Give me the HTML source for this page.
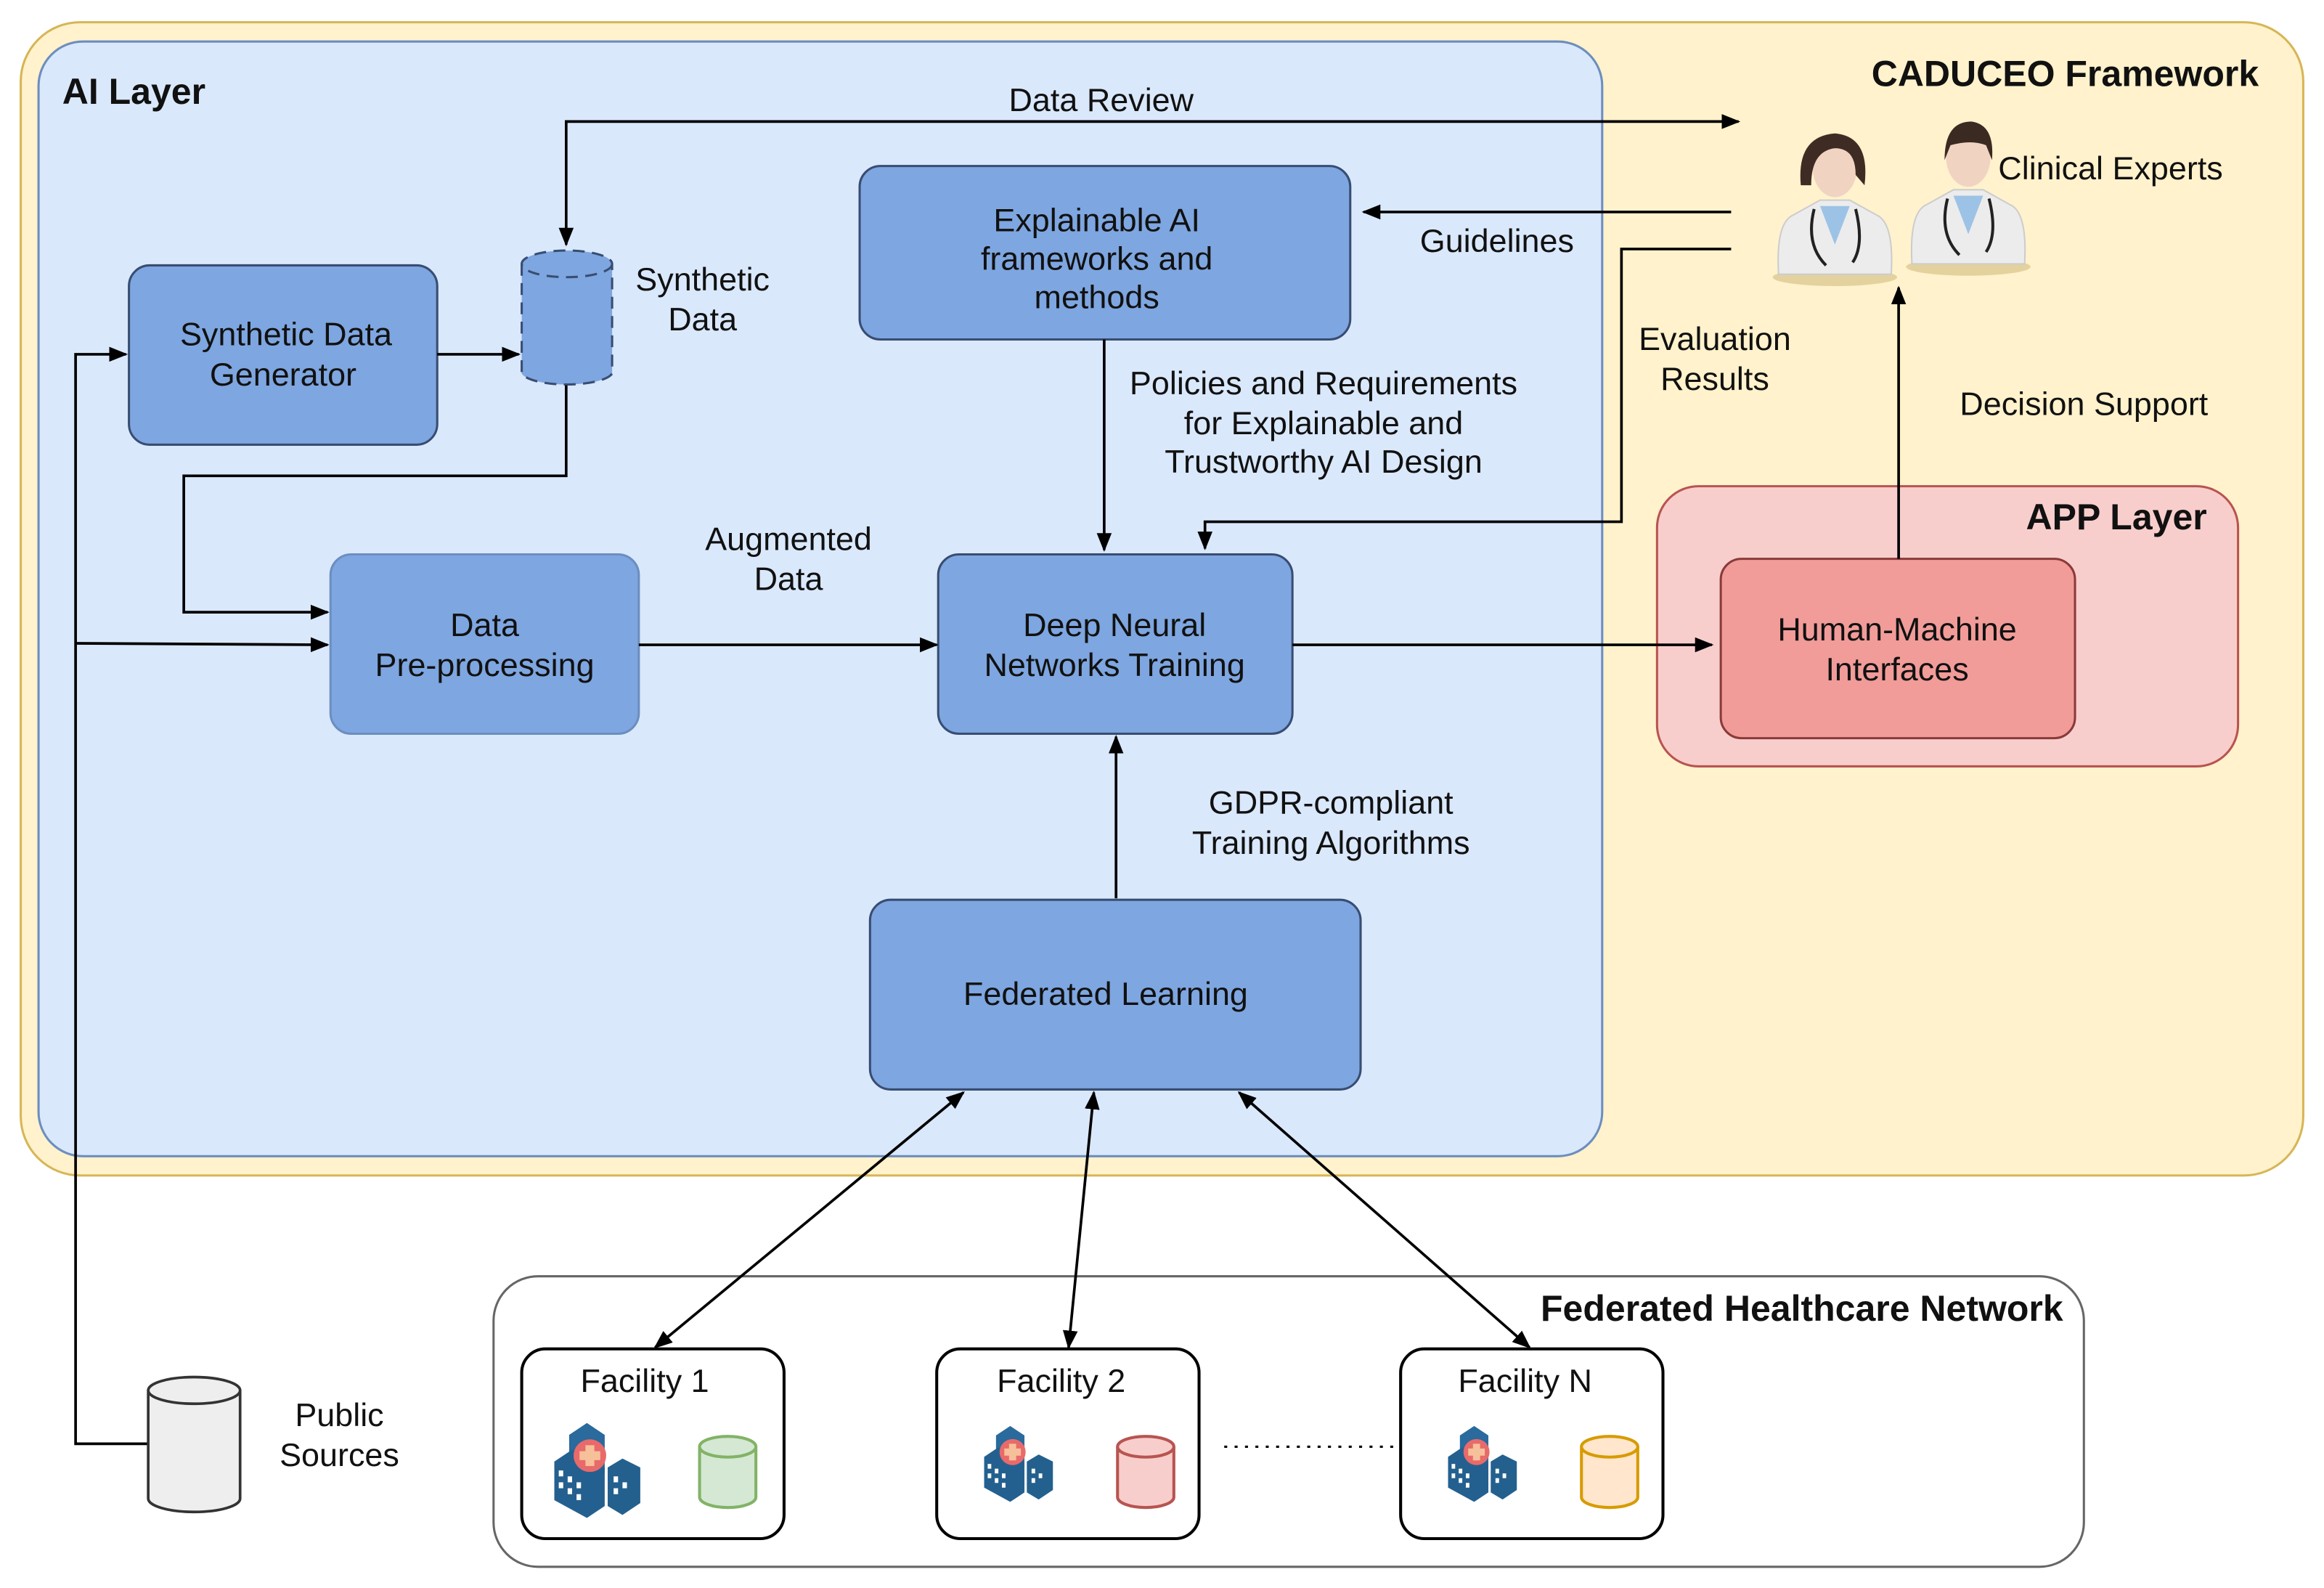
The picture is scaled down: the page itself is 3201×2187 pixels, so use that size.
<!DOCTYPE html>
<html><head><meta charset="utf-8"><style>
html,body{margin:0;padding:0;background:#fff}
svg{display:block}
text{font-family:"Liberation Sans",sans-serif;font-size:22px;fill:#111}
.b{font-weight:bold;font-size:24.5px}
</style></head><body>
<svg width="3201" height="2187" viewBox="0 0 1568 1071.3" preserveAspectRatio="none" xmlns="http://www.w3.org/2000/svg">
<defs>
<marker id="a" viewBox="0 0 10 10" refX="9" refY="5" markerWidth="7" markerHeight="7" orient="auto-start-reverse"><path d="M0,1 L10,5 L0,9 z" fill="#000"/></marker>
<g id="hosp">
<path d="M10,8 L22,0 L34,8 L34,34 L22,42 L10,34z" fill="#2a6a9c"/>
<path d="M0,26 L12,18 L34,30 L34,56 L22,64 L0,52z" fill="#24608f"/>
<path d="M36,30 L46,24 L58,30 L58,54 L46,62 L36,56z" fill="#23608e"/>
<g fill="#fff"><rect x="3" y="32" width="3" height="4"/><rect x="9" y="36" width="3" height="4"/><rect x="15" y="40" width="3" height="4"/><rect x="3" y="40" width="3" height="4"/><rect x="9" y="44" width="3" height="4"/><rect x="15" y="48" width="3" height="4"/><rect x="40" y="36" width="3" height="4"/><rect x="40" y="44" width="3" height="4"/><rect x="46" y="40" width="3" height="4"/></g>
<circle cx="24" cy="22" r="11" fill="#e86a6a"/>
<path d="M21,15h6v4h4v6h-4v4h-6v-4h-4v-6h4z" fill="#f6c09a"/>
</g>
<g id="doc">
<ellipse cx="0" cy="92" rx="42" ry="6" fill="#d9c58a" opacity="0.7"/>
<path d="M-38,90 Q-40,55 -28,50 L-10,40 L10,40 L28,50 Q40,55 38,90z" fill="#ececec" stroke="#ccc"/>
<path d="M-10,44 L0,70 L10,44z" fill="#9cc3e6"/>
<path d="M-14,46 Q-20,70 -6,84 M14,46 Q20,70 12,82" fill="none" stroke="#222" stroke-width="2"/>
<ellipse cx="0" cy="18" rx="15" ry="20" fill="#f1d3c2"/>
</g>
</defs>
<rect x="14" y="15" width="1540" height="778" rx="40" fill="#fff2cc" stroke="#d6b656" stroke-width="1.5"/>
<rect x="26" y="28" width="1055" height="752" rx="30" fill="#dae8fc" stroke="#6c8ebf" stroke-width="1.5"/>
<text x="42" y="70" class="b">AI Layer</text>
<text x="1524" y="58" class="b" text-anchor="end">CADUCEO Framework</text>

<rect x="1118" y="328" width="392" height="189" rx="28" fill="#f8cecc" stroke="#b85450" stroke-width="1.5"/>
<text x="1489" y="357" class="b" text-anchor="end">APP Layer</text>
<rect x="1161" y="377" width="239" height="121" rx="14" fill="#f19c99" stroke="#8a3a3a" stroke-width="1.5"/>
<text x="1280" y="432" text-anchor="middle">Human-Machine</text><text x="1280" y="459" text-anchor="middle">Interfaces</text>

<g fill="#7ea6e0" stroke="#384d72" stroke-width="1.5">
<rect x="87" y="179" width="208" height="121" rx="14"/>
<rect x="580" y="112" width="331" height="117" rx="14"/>
<rect x="633" y="374" width="239" height="121" rx="14"/>
<rect x="587" y="607" width="331" height="128" rx="14"/>
</g>
<rect x="223" y="374" width="208" height="121" rx="14" fill="#7ea6e0" stroke="#6c8ebf" stroke-width="1.5"/>
<text x="193" y="233" text-anchor="middle">Synthetic Data</text><text x="191" y="260" text-anchor="middle">Generator</text>
<text x="740" y="156" text-anchor="middle">Explainable AI</text><text x="740" y="182" text-anchor="middle">frameworks and</text><text x="740" y="208" text-anchor="middle">methods</text>
<text x="327" y="429" text-anchor="middle">Data</text><text x="327" y="456" text-anchor="middle">Pre-processing</text>
<text x="752" y="429" text-anchor="middle">Deep Neural</text><text x="752" y="456" text-anchor="middle">Networks Training</text>
<text x="746" y="678" text-anchor="middle">Federated Learning</text>

<path d="M352,178 L352,252 A31,9 0 0 0 413,252 L413,178" fill="#7ea6e0" stroke="#384d72" stroke-width="1.5" stroke-dasharray="8,5"/>
<ellipse cx="382.5" cy="178" rx="30.5" ry="9" fill="#7ea6e0" stroke="#384d72" stroke-width="1.5" stroke-dasharray="8,5"/>
<text x="474" y="196" text-anchor="middle">Synthetic</text><text x="474" y="223" text-anchor="middle">Data</text>

<!-- Federated network -->
<rect x="333" y="861" width="1073" height="196" rx="30" fill="#fff" stroke="#666" stroke-width="1.5"/>
<text x="1392" y="891" class="b" text-anchor="end">Federated Healthcare Network</text>
<g fill="#fff" stroke="#000" stroke-width="2">
<rect x="352" y="910" width="177" height="128" rx="16"/>
<rect x="632" y="910" width="177" height="128" rx="16"/>
<rect x="945" y="910" width="177" height="128" rx="16"/>
</g>

<g fill="none" stroke="#000" stroke-width="1.8">
<path d="M382,165 L382,82 L1173,82" marker-start="url(#a)" marker-end="url(#a)"/>
<path d="M1168,143 L920,143" marker-end="url(#a)"/>
<path d="M1168,168 L1094,168 L1094,352 L813,352 L813,370" marker-end="url(#a)"/>
<path d="M1281,377 L1281,194" marker-end="url(#a)"/>
<path d="M295,239 L350,239" marker-end="url(#a)"/>
<path d="M382,260 L382,321 L124,321 L124,413 L221,413" marker-end="url(#a)"/>
<path d="M100,974 L51,974 L51,239 L85,239" marker-end="url(#a)"/>
<path d="M51,434 L221,435" marker-end="url(#a)"/>
<path d="M431,435 L632,435" marker-end="url(#a)"/>
<path d="M745,229 L745,371" marker-end="url(#a)"/>
<path d="M753,606 L753,497" marker-end="url(#a)"/>
<path d="M872,435 L1155,435" marker-end="url(#a)"/>
<path d="M650,737 L442,909" marker-start="url(#a)" marker-end="url(#a)"/>
<path d="M738,737 L721,909" marker-start="url(#a)" marker-end="url(#a)"/>
<path d="M836,737 L1032,909" marker-start="url(#a)" marker-end="url(#a)"/>
</g>
<text x="743" y="75" text-anchor="middle">Data Review</text>
<text x="1010" y="170" text-anchor="middle">Guidelines</text>
<text x="1157" y="236" text-anchor="middle">Evaluation</text><text x="1157" y="263" text-anchor="middle">Results</text>
<text x="1406" y="280" text-anchor="middle">Decision Support</text>
<text x="1424" y="121" text-anchor="middle">Clinical Experts</text>
<text x="532" y="371" text-anchor="middle">Augmented</text><text x="532" y="398" text-anchor="middle">Data</text>
<text x="893" y="266" text-anchor="middle">Policies and Requirements</text><text x="893" y="293" text-anchor="middle">for Explainable and</text><text x="893" y="319" text-anchor="middle">Trustworthy AI Design</text>
<text x="898" y="549" text-anchor="middle">GDPR-compliant</text><text x="898" y="576" text-anchor="middle">Training Algorithms</text>

<use href="#doc" x="1238" y="95"/>
<use href="#doc" x="1328" y="88"/>
<path d="M1215,125 Q1212,92 1238,90 Q1262,92 1258,125 L1252,118 Q1252,100 1238,100 Q1222,102 1222,125z" fill="#3e2c24"/>
<path d="M1312,108 Q1312,82 1330,82 Q1346,84 1344,108 L1340,98 Q1330,94 1316,98z" fill="#3a2a22"/>

<text x="435" y="939" text-anchor="middle">Facility 1</text>
<text x="716" y="939" text-anchor="middle">Facility 2</text>
<text x="1029" y="939" text-anchor="middle">Facility N</text>
<use href="#hosp" x="374" y="960"/>
<g transform="translate(664,962) scale(0.8)"><use href="#hosp"/></g>
<g transform="translate(977,962) scale(0.8)"><use href="#hosp"/></g>
<g stroke-width="2">
<path d="M472,976 L472,1010 A19,7 0 0 0 510,1010 L510,976" fill="#d5e8d4" stroke="#82b366"/>
<ellipse cx="491" cy="976" rx="19" ry="7" fill="#d5e8d4" stroke="#82b366"/>
<path d="M754,976 L754,1010 A19,7 0 0 0 792,1010 L792,976" fill="#f8cecc" stroke="#b85450"/>
<ellipse cx="773" cy="976" rx="19" ry="7" fill="#f8cecc" stroke="#b85450"/>
<path d="M1067,976 L1067,1010 A19,7 0 0 0 1105,1010 L1105,976" fill="#ffe6cc" stroke="#d79b00"/>
<ellipse cx="1086" cy="976" rx="19" ry="7" fill="#ffe6cc" stroke="#d79b00"/>
</g>
<path d="M826,976 L940,976" stroke="#000" stroke-width="1.5" stroke-dasharray="2,5"/>

<path d="M100,938 L100,1011 A31,9 0 0 0 162,1011 L162,938" fill="#eeeeee" stroke="#333" stroke-width="1.8"/>
<ellipse cx="131" cy="938" rx="31" ry="9" fill="#eeeeee" stroke="#333" stroke-width="1.8"/>
<text x="229" y="962" text-anchor="middle">Public</text><text x="229" y="989" text-anchor="middle">Sources</text>
</svg>
</body></html>
